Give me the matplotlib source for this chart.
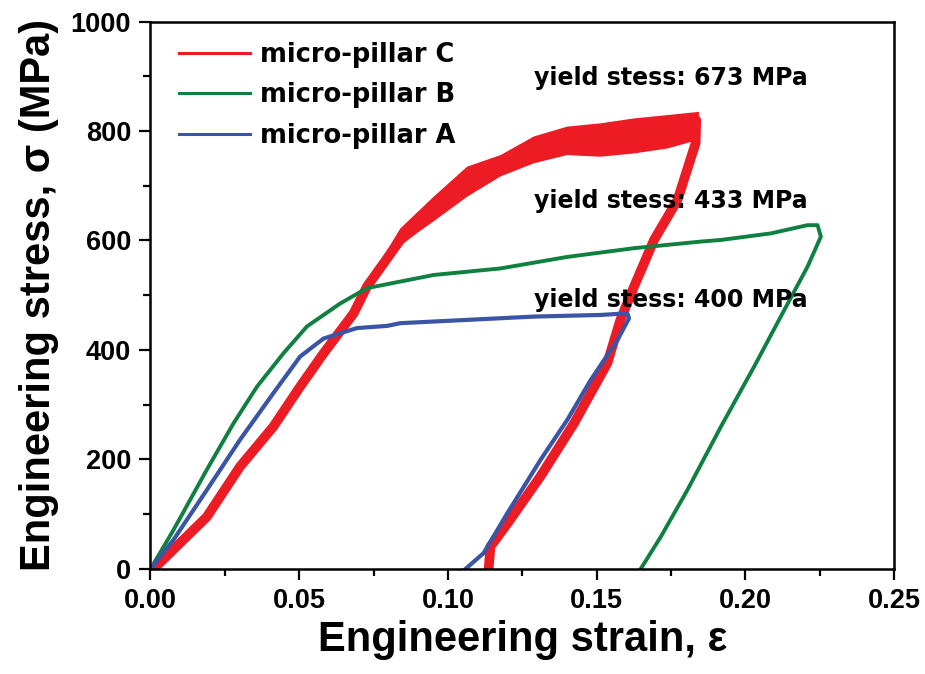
import numpy as np
import matplotlib
matplotlib.use("Agg")
import matplotlib.pyplot as plt
from matplotlib.ticker import MultipleLocator

# values (strain, stress in MPa)
red_x = [0.001, 0.0189, 0.0301, 0.0413, 0.0503, 0.0582, 0.0683, 0.0728, 0.084,
         0.0952, 0.1065, 0.1177, 0.1289, 0.1401, 0.1513, 0.1626, 0.1738, 0.1835,
         0.1833, 0.1772, 0.1693, 0.1626, 0.158, 0.1536, 0.1424, 0.1311, 0.120,
         0.1143, 0.1137]
red_y = [0, 95, 187, 260, 333, 394, 467, 516, 601,
         650, 705, 737, 765, 782, 784, 791, 799, 820,
         778, 674, 601, 516, 455, 376, 266, 169, 83,
         41, 0]

# upper / lower edge of the noisy red band in the hardening part
red_band_x = [0.0683, 0.0784, 0.084, 0.0952, 0.1065, 0.1177, 0.1289, 0.1401,
              0.1513, 0.1626, 0.1738, 0.1844]
red_band_top = [467, 572, 622, 680, 735, 756, 790, 808, 814, 823, 829, 835]
red_band_bot = [467, 545, 592, 635, 680, 717, 741, 756, 753, 759, 768, 784]

green_x = [0, 0.0077, 0.0189, 0.0279, 0.0358, 0.0447, 0.0526, 0.0638, 0.0728,
           0.0952, 0.1177, 0.1401, 0.1626, 0.185, 0.1918, 0.2086, 0.2209, 0.2243,
           0.2254, 0.2209, 0.2131, 0.203, 0.1918, 0.1805, 0.1716, 0.1648]
green_y = [0, 71, 181, 266, 333, 394, 443, 485, 513,
           537, 549, 570, 586, 598, 601, 613, 628, 628,
           607, 552, 473, 370, 260, 144, 59, 0]

blue_x = [0, 0.0077, 0.0189, 0.0301, 0.0413, 0.0503, 0.0582, 0.0694, 0.0795,
          0.0840, 0.1065, 0.1288, 0.1513, 0.1603, 0.1609, 0.157, 0.148, 0.1401,
          0.1311, 0.120, 0.112, 0.1059]
blue_y = [0, 53, 144, 236, 321, 388, 421, 440, 444,
          449, 455, 461, 464, 467, 458, 418, 345, 272,
          199, 102, 29, 0]

labels = ["micro-pillar C", "micro-pillar B", "micro-pillar A"]
yield_texts = ["yield stess: 673 MPa", "yield stess: 433 MPa", "yield stess: 400 MPa"]
yield_pos = [(0.1288, 884), (0.1288, 659), (0.1288, 478)]

red = "#ED1C24"
green = "#0F8040"
blue = "#3A55A6"

fig = plt.figure(figsize=(9.25, 6.74), dpi=100)
ax = fig.add_axes([0.1627, 0.1558, 0.8038, 0.8123])

l_c, = ax.plot(red_x, red_y, color=red, lw=7, solid_joinstyle="round")
ax.fill(red_band_x + red_band_x[::-1], red_band_top + red_band_bot[::-1],
        color=red, lw=0)
l_b, = ax.plot(green_x, green_y, color=green, lw=2.8)
l_a, = ax.plot(blue_x, blue_y, color=blue, lw=3)

ax.set_xlim(0, 0.25)
ax.set_ylim(0, 1000)
ax.xaxis.set_major_locator(MultipleLocator(0.05))
ax.xaxis.set_minor_locator(MultipleLocator(0.025))
ax.yaxis.set_major_locator(MultipleLocator(200))
ax.yaxis.set_minor_locator(MultipleLocator(100))
ax.xaxis.set_major_formatter(plt.FormatStrFormatter("%.2f"))

ax.tick_params(which="major", direction="out", length=8, width=1.6, pad=6)
ax.tick_params(which="minor", direction="out", length=5, width=1.6)
for lab in ax.get_xticklabels() + ax.get_yticklabels():
    lab.set_fontfamily("Liberation Sans")
    lab.set_fontweight("bold")
    lab.set_fontsize(19.5)
for s in ax.spines.values():
    s.set_linewidth(1.8)

ax.set_xlabel("Engineering strain, ε", fontfamily="Liberation Sans",
              fontweight="bold", fontsize=30, labelpad=4)
ax.set_ylabel("Engineering stress, σ (MPa)", fontfamily="Liberation Sans",
              fontweight="bold", fontsize=30, labelpad=8)

leg_lines = [plt.Line2D([], [], color=c, lw=2.2) for c in (red, green, blue)]
ax.legend(leg_lines, labels, loc="upper left", bbox_to_anchor=(0.038, 0.962),
          frameon=False, borderpad=0, borderaxespad=0, handlelength=2.76,
          handletextpad=0.39, labelspacing=0.55,
          prop={"family": "DejaVu Sans", "weight": "bold", "size": 18.5})

for txt, (xx, yy) in zip(yield_texts, yield_pos):
    ax.text(xx, yy, txt, fontfamily="DejaVu Sans", fontweight="bold",
            fontsize=17, va="baseline", ha="left")

fig.savefig("out.png", dpi=100)
